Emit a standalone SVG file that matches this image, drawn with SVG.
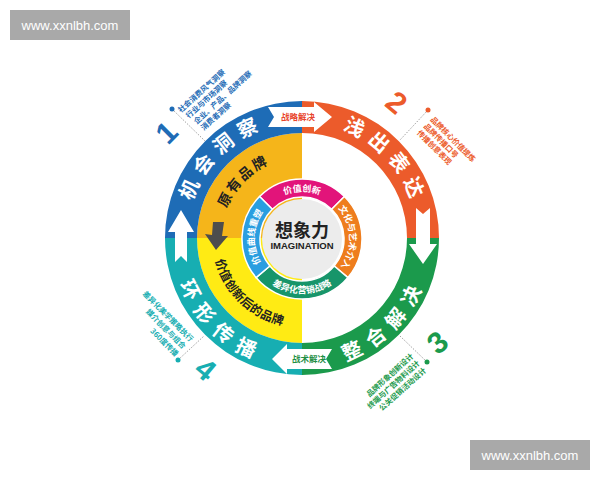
<svg xmlns="http://www.w3.org/2000/svg" width="600" height="480" viewBox="0 0 600 480">
<style>
.cjk{font-family:"Noto Sans CJK SC","Noto Sans",sans-serif;font-weight:700}
.ring-t{font-size:20px;fill:#fff}
.in-t{font-size:9px;fill:#fff}
.yel-t{fill:#222}
.note{font-size:7.5px}
.num{font-family:"Liberation Sans",Arial,sans-serif;font-weight:700;font-size:30px}
.wm{font-family:"Liberation Sans",Arial,sans-serif;font-size:13px;fill:#fff}
.lead{stroke:#888;stroke-width:0.8;stroke-dasharray:1.5 1.5;fill:none}
.seg{stroke:#fff;stroke-width:1.5}
.warrow{fill:#fff}
</style>
<defs>
<path id="pBlue" d="M199.09,290.44 A115.5,115.5 0 0 1 347.13,131.68"/>
<path id="pOrange" d="M253.19,133.32 A115.5,115.5 0 0 1 406.68,286.81"/>
<path id="pGreen" d="M242.75,354.28 A130.5,130.5 0 0 0 422.13,187.01"/>
<path id="pTeal" d="M184.71,180.79 A130.5,130.5 0 0 0 355.08,357.21"/>
<path id="pOld" d="M224.14,260.33 A81,81 0 0 1 321.60,159.41"/>
<path id="pNew" d="M217.90,207.39 A89.5,89.5 0 0 0 335.53,320.98"/>
<path id="pMag" d="M257.36,222.76 A47.5,47.5 0 0 1 346.64,222.76"/>
<path id="pIO" d="M318.25,194.36 A47.5,47.5 0 0 1 322.07,282.05"/>
<path id="pIG" d="M250.79,257.64 A54.5,54.5 0 0 0 353.21,257.64"/>
<path id="pIB" d="M281.93,282.05 A47.5,47.5 0 0 1 285.75,194.36"/>
</defs>
<rect width="600" height="480" fill="#fff"/>

<g id="watermark-top">
<rect x="10" y="10" width="120" height="30" fill="#a9a9a9"/>
<text class="wm" x="70" y="30" text-anchor="middle">www.xxnlbh.com</text>
</g>
<g id="watermark-bottom">
<rect x="470" y="440" width="120" height="30" fill="#a9a9a9"/>
<text class="wm" x="530" y="460" text-anchor="middle">www.xxnlbh.com</text>
</g>

<g id="inner-brand">
<path d="M302,238 L197,238 A105,105 0 0 1 302,133 Z" fill="#f5b51a"/>
<path d="M302,238 L302,343 A105,105 0 0 1 197,238 Z" fill="#ffeb14"/>
<text class="cjk yel-t" font-size="14" letter-spacing="2"><textPath href="#pOld" startOffset="50%" text-anchor="middle">原有品牌</textPath></text>
<text class="cjk yel-t" font-size="12" letter-spacing="0.3"><textPath href="#pNew" startOffset="50%" text-anchor="middle">价值创新后的品牌</textPath></text>
</g>

<g id="node-1-blue">
<path d="M165,238 A137,137 0 0 1 302,101 L302,133 A105,105 0 0 0 197,238 Z" fill="#1e6cb6"/>
<text class="cjk ring-t" letter-spacing="7"><textPath href="#pBlue" startOffset="51.5%" text-anchor="middle">机会洞察</textPath></text>
</g>
<g id="node-2-orange">
<path d="M302,101 A137,137 0 0 1 439,238 L407,238 A105,105 0 0 0 302,133 Z" fill="#ec5b2b"/>
<text class="cjk ring-t" letter-spacing="7"><textPath href="#pOrange" startOffset="51.5%" text-anchor="middle">浅出表达</textPath></text>
</g>
<g id="node-3-green">
<path d="M439,238 A137,137 0 0 1 302,375 L302,343 A105,105 0 0 0 407,238 Z" fill="#1b9a4c"/>
<text class="cjk ring-t" letter-spacing="9"><textPath href="#pGreen" startOffset="51.5%" text-anchor="middle">整合解决</textPath></text>
</g>
<g id="node-4-teal">
<path d="M302,375 A137,137 0 0 1 165,238 L197,238 A105,105 0 0 0 302,343 Z" fill="#17aeb2"/>
<text class="cjk ring-t" letter-spacing="9"><textPath href="#pTeal" startOffset="51.5%" text-anchor="middle">环形传播</textPath></text>
</g>

<g id="inner-ring">
<path class="seg" d="M259.57,196.57 A60,60 0 0 1 344.43,196.57 L331.70,209.30 A42,42 0 0 0 272.30,209.30 Z" fill="#e2147a"/>
<path class="seg" d="M344.43,196.57 A60,60 0 0 1 347.96,277.57 L334.17,266.00 A42,42 0 0 0 331.70,209.30 Z" fill="#ee7d1d"/>
<path class="seg" d="M347.96,277.57 A60,60 0 0 1 256.04,277.57 L269.83,266.00 A42,42 0 0 0 334.17,266.00 Z" fill="#17956a"/>
<path class="seg" d="M256.04,277.57 A60,60 0 0 1 259.57,196.57 L272.30,209.30 A42,42 0 0 0 269.83,266.00 Z" fill="#2a9ee0"/>
<text class="cjk in-t" font-size="10"><textPath href="#pMag" startOffset="50%" text-anchor="middle">价值创新</textPath></text>
<text class="cjk in-t"><textPath href="#pIO" startOffset="50%" text-anchor="middle">文化与艺术介入</textPath></text>
<text class="cjk in-t" font-size="9.5"><textPath href="#pIG" startOffset="50%" text-anchor="middle">差异化营销战略</textPath></text>
<text class="cjk in-t"><textPath href="#pIB" startOffset="50%" text-anchor="middle">价值曲线重塑</textPath></text>
</g>

<g id="center">
<circle cx="302" cy="239" r="40" fill="#ececec"/>
<text class="cjk" x="302" y="237" font-size="18" fill="#222" text-anchor="middle">想象力</text>
<text x="302" y="249" font-family="'Liberation Sans',Arial,sans-serif" font-weight="700" font-size="9.5" fill="#222" text-anchor="middle">IMAGINATION</text>
</g>

<g id="connectors">
<polygon class="warrow" points="268,107 314,107 314,102 332,117 314,132 314,127 268,127 274,117"/>
<text class="cjk" x="298" y="120" font-size="8.5" fill="#e8452c" text-anchor="middle">战略解决</text>
<polygon class="warrow" points="416,208 423,214 430,208 430,244 437,244 423,264 409,244 416,244"/>
<polygon class="warrow" points="272,359 287,344 287,349 332,349 326,359 332,369 287,369 287,374"/>
<text class="cjk" x="309" y="362" font-size="8.5" fill="#1f8f45" text-anchor="middle">战术解决</text>
<polygon class="warrow" points="181,210 194,232 187,232 187,262 181,256 175,262 175,232 168,232"/>
<path d="M213,222 L224,222 L222,236 L228,236 L216,250 L205,234 L212,235 Z" fill="#4d4d4d"/>
<path class="lead" d="M172,109 L205,141"/>
<path class="lead" d="M428,110 L400,140"/>
<path class="lead" d="M427,362 L400,336"/>
<path class="lead" d="M178,360 L204,336"/>
</g>

<g id="note-1" fill="#1e6cb6">
<circle cx="172" cy="109" r="2.5"/>
<g transform="translate(166,132) rotate(-45)"><text class="num" x="0" y="11" text-anchor="middle">1</text></g>
<g class="cjk note" transform="translate(181,113) rotate(-42)">
<text x="0" y="0">社会消费风气洞察</text>
<text x="2" y="9.5">行业与市场洞察</text>
<text x="4" y="19">企业、产品、品牌洞察</text>
<text x="5" y="28.5">消费者洞察</text>
</g>
</g>
<g id="note-2" fill="#ec5b2b">
<circle cx="428" cy="110" r="2.5"/>
<g transform="translate(397,102) rotate(40)"><text class="num" x="0" y="11" text-anchor="middle">2</text></g>
<g class="cjk note" transform="translate(430,120) rotate(45)">
<text x="0" y="0">品牌核心价值提炼</text>
<text x="0" y="9.5">品牌传播口号</text>
<text x="0" y="19">传播创意表现</text>
</g>
</g>
<g id="note-3" fill="#1b9a4c">
<circle cx="427" cy="362" r="2.5"/>
<g transform="translate(437,342) rotate(-40)"><text class="num" x="0" y="11" text-anchor="middle">3</text></g>
<g class="cjk note" transform="translate(414,357) rotate(-42)" text-anchor="end">
<text x="0" y="0">品牌形象创新设计</text>
<text x="0" y="9.5">终端与广告物料设计</text>
<text x="0" y="19">公关促销活动设计</text>
</g>
</g>
<g id="note-4" fill="#17aeb2">
<circle cx="178" cy="360" r="2.5"/>
<g transform="translate(206,369) rotate(40)"><text class="num" x="0" y="11" text-anchor="middle">4</text></g>
<g class="cjk note" transform="translate(190,342) rotate(45)" text-anchor="end">
<text x="0" y="0">差异化美学策略执行</text>
<text x="0" y="10.5">媒介创意与组合</text>
<text x="0" y="21">360度传播</text>
</g>
</g>
</svg>
